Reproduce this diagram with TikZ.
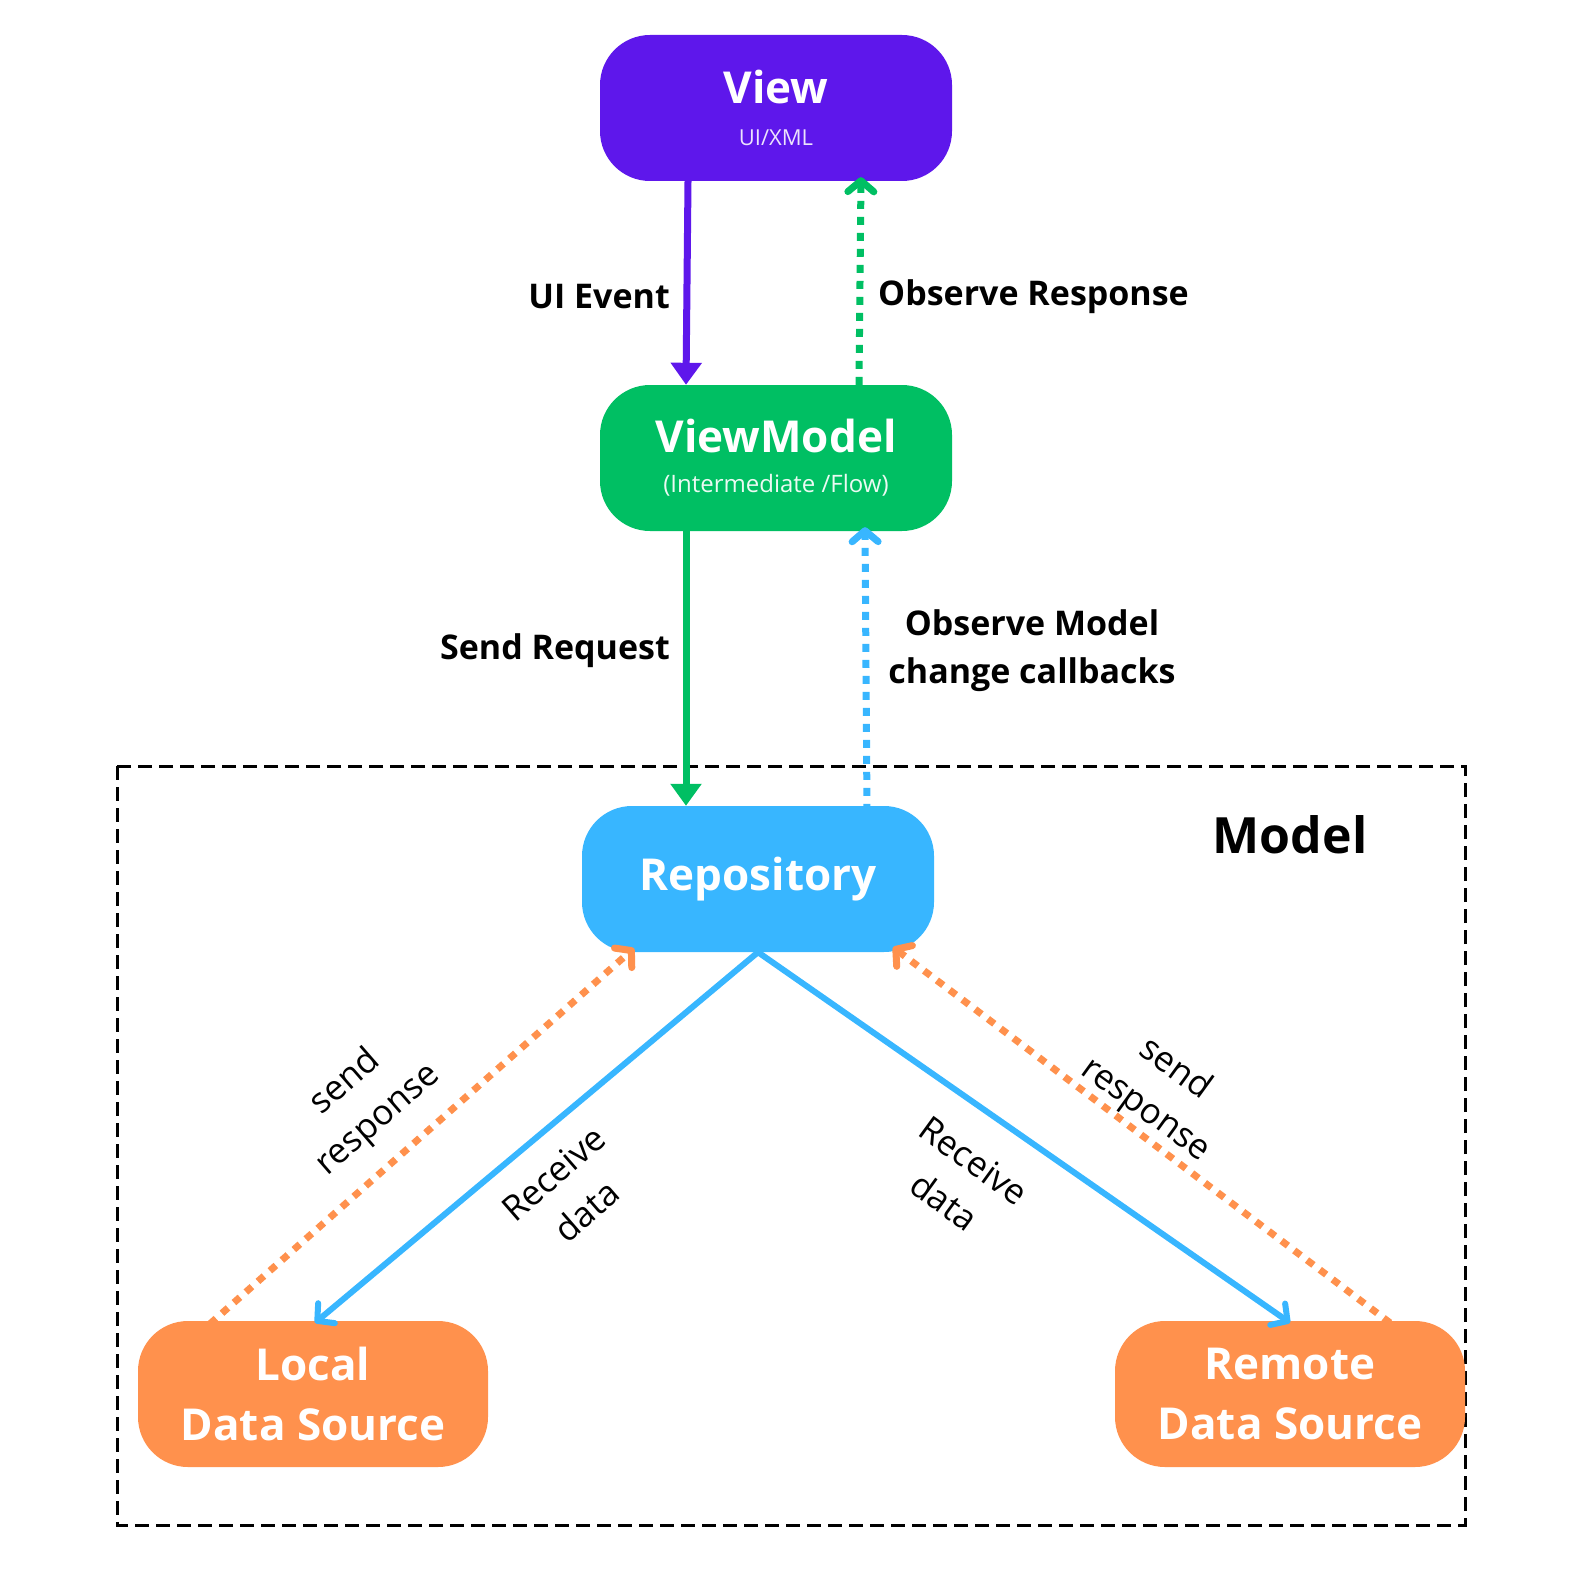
\documentclass[tikz,border=0pt]{standalone}
\usepackage{fontspec}
\setmainfont{Open Sans}
\usetikzlibrary{arrows.meta}
\definecolor{cview}{HTML}{5E17EB}
\definecolor{cvm}{HTML}{00BF63}
\definecolor{crepo}{HTML}{38B6FF}
\definecolor{cds}{HTML}{FF914D}
\tikzset{
  box/.style={rectangle, rounded corners=50pt, minimum width=352pt, minimum height=146pt, inner sep=0pt, align=center, text=white, font=\bfseries\fontsize{44}{56}\selectfont},
  dsbox/.style={box, minimum width=350pt, font=\bfseries\fontsize{44}{60}\selectfont},
  lbl/.style={font=\bfseries\fontsize{34}{48}\selectfont, align=center, inner sep=0pt},
  rlbl/.style={font=\fontsize{35}{50}\selectfont, align=center, inner sep=0pt},
  solidarr/.style={line width=7pt, -{Triangle[width=30pt,length=22pt]}},
  barbarr/.style={line width=6pt, line cap=round, -{Straight Barb[length=12pt,width=26pt,line cap=round,line join=round]}},
  dotarr/.style={line width=7pt, dash pattern=on 8pt off 8pt, -{Straight Barb[length=11pt,width=26pt,line cap=round,line join=round]}},
}
\begin{document}
\begin{tikzpicture}[x=1pt,y=-1pt]
\useasboundingbox (0,0) rectangle (1578,1589);
% Model frame
\draw[line width=3pt, dash pattern=on 14pt off 7pt] (117,766) rectangle (1465,1525);
\node[font=\bfseries\fontsize{50}{60}\selectfont, inner sep=0pt] (modellbl) at (1290,835) {Model};
% boxes
\node[box, fill=cview] (view) at (776,108) {View\\[-14pt]{\fontsize{22}{26}\mdseries\selectfont\color{white!88!cview}UI/XML}};
\node[box, fill=cvm] (vm) at (776,458) {ViewModel\\[-16pt]{\fontsize{24}{28}\mdseries\selectfont\color{white!92!cvm}(Intermediate /Flow)}};
\node[box, fill=crepo] (repo) at (758,879) {Repository};
\node[dsbox, fill=cds] (local) at (313,1394) {Local\\Data Source};
\node[dsbox, fill=cds] (remote) at (1290,1394) {Remote\\Data Source};
% vertical connectors
\draw[solidarr, cview] ([xshift=-88pt]view.south) -- ([xshift=-90pt]vm.north);
\draw[dotarr, cvm] ([xshift=83pt]vm.north) -- ([xshift=85pt,yshift=4pt]view.south);
\draw[solidarr, cvm] ([xshift=-90pt]vm.south) -- ([xshift=-72pt]repo.north);
\draw[dotarr, crepo] ([xshift=109pt,yshift=-6pt]repo.north) -- ([xshift=89pt,yshift=4pt]vm.south);
\node[lbl, anchor=east] (uievent) at (670,297) {UI Event};
\node[lbl, anchor=west] (obsresp) at (878,297) {Observe Response};
\node[lbl, anchor=east] (sendreq) at (670,651) {Send Request};
\node[lbl] (obsmodel) at (1032,651) {Observe Model\\change callbacks};
% diagonal connectors
\draw[barbarr, crepo] (repo.south) -- ([xshift=2pt,yshift=-2pt]local.north);
\draw[barbarr, crepo] (repo.south) -- ([yshift=-2pt]remote.north);
\draw[dotarr, cds] ([xshift=-103pt,yshift=-3pt]local.north) -- ([xshift=-124pt,yshift=4pt]repo.south);
\draw[dotarr, cds] ([xshift=100pt,yshift=-2pt]remote.north) -- ([xshift=135pt,yshift=5pt]repo.south);
\node[rlbl, rotate=41] (sr1) at (362,1101) {send\\response};
\node[rlbl, rotate=41] (rd1) at (570,1192) {Receive\\data};
\node[rlbl, rotate=-36] (sr2) at (1160,1090) {send\\response};
\node[rlbl, rotate=-36] (rd2) at (959,1181) {Receive\\data};
\end{tikzpicture}
\end{document}
